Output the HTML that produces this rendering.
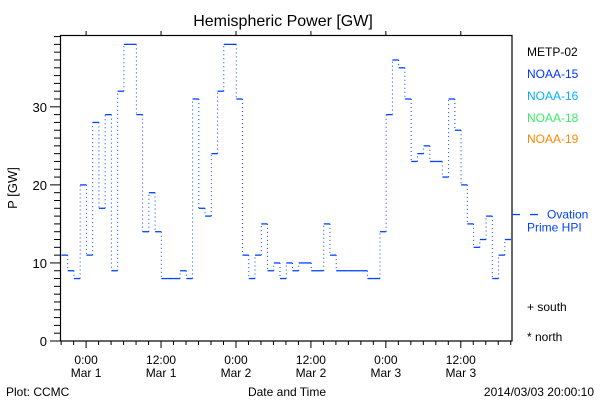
<!DOCTYPE html>
<html><head><meta charset="utf-8"><style>
body{margin:0;background:#fff;}
svg{display:block;font-family:"Liberation Sans",sans-serif;}
</style></head><body>
<svg id="chart" width="600" height="400" viewBox="0 0 600 400">
<text x="283" y="26" font-size="16" text-anchor="middle">Hemispheric Power [GW]</text>
<rect x="60.5" y="35.5" width="451.5" height="305.5" fill="none" stroke="#000" stroke-width="1.2"/>
<g id="yaxis"></g>
<g id="xaxis"></g>
<g id="series"></g>
<text transform="translate(17,188) rotate(-90)" font-size="13" text-anchor="middle">P [GW]</text>
<text x="287" y="396" font-size="12" text-anchor="middle">Date and Time</text>
<text x="6" y="396" font-size="12">Plot: CCMC</text>
<text x="594" y="396" font-size="12" text-anchor="end">2014/03/03 20:00:10</text>
<g font-size="12">
<text x="527" y="56" fill="#000">METP-02</text>
<text x="527" y="78" fill="#0033ff">NOAA-15</text>
<text x="527" y="100" fill="#00b0ff">NOAA-16</text>
<text x="527" y="122" fill="#33ee66">NOAA-18</text>
<text x="527" y="143" fill="#ff8800">NOAA-19</text>
<text x="527" y="311" fill="#000">+ south</text>
<text x="527" y="341" fill="#000">* north</text>
</g>
<g id="hpi"></g>
</svg>
<script>
const yTicks=[0,10,20,30];
const xTickHours=[0,12,24,36,48,60];
const xTickLabels1=["0:00","12:00","0:00","12:00","0:00","12:00"];
const xTickLabels2=["Mar 1","Mar 1","Mar 2","Mar 2","Mar 3","Mar 3"];
const startHour=-3.95;
const values=[11,9,8,20,11,28,17,29,9,32,38,38,29,14,19,14,8,8,8,9,8,31,17,16,24,32,38,38,31,11,8,11,15,9,10,8,10,9,10,10,9,9,15,11,9,9,9,9,9,8,8,14,29,36,35,31,23,24,25,23,23,21,31,27,20,15,12,13,16,8,11,13];
const hpiValue=16.2;
const NS="http://www.w3.org/2000/svg";
const X0=60.5,X1=512,Y0=341,Y1=35;
const tMin=-4.1,tMax=68.2,vMax=39.2;
function xs(t){return X0+(t-tMin)/(tMax-tMin)*(X1-X0);}
function ys(v){return Y0-v/vMax*(Y0-Y1);}
function mk(tag,attrs,parent){const e=document.createElementNS(NS,tag);for(const k in attrs)e.setAttribute(k,attrs[k]);parent.appendChild(e);return e;}
const ya=document.getElementById('yaxis');
for(let v=0;v<=39;v++){
  const major=v%10===0;
  const t=mk('line',{x1:major?50:54,x2:60.5,y1:ys(v),y2:ys(v),stroke:'#000','stroke-width':1},ya);
  
  
}
yTicks.forEach(v=>{
  const t=mk('text',{x:47,y:ys(v)+5,'font-size':13,'text-anchor':'end'},ya);
  t.textContent=v;
  
  
});
const xa=document.getElementById('xaxis');
for(let h=-4;h<=68;h+=2){
  const major=h%12===0;
  const t=mk('line',{x1:xs(h),x2:xs(h),y1:341,y2:major?348:345,stroke:'#000','stroke-width':1},xa);
  
  
  if(major){
    const u=mk('line',{x1:xs(h),x2:xs(h),y1:35,y2:31,stroke:'#000','stroke-width':1},xa);
    
    
  }
}
xTickHours.forEach((h,i)=>{
  const a=mk('text',{x:xs(h),y:364,'font-size':12,'text-anchor':'middle'},xa);
  a.textContent=xTickLabels1[i];
  
  
  const b=mk('text',{x:xs(h),y:377,'font-size':12,'text-anchor':'middle'},xa);
  b.textContent=xTickLabels2[i];
  
  
});
const sg=document.getElementById('series');
values.forEach((v,i)=>{
  const ta=startHour+i,tb=Math.min(startHour+i+1,tMax);
  const h=mk('line',{x1:xs(ta),x2:xs(tb),y1:ys(v),y2:ys(v),stroke:'#0044ff','stroke-width':1.3},sg);
  
  
  if(i<values.length-1){
    const d=mk('line',{x1:xs(tb),x2:xs(tb),y1:ys(v),y2:ys(values[i+1]),stroke:'#0044ff','stroke-width':1,'stroke-dasharray':'1 3'},sg);
    
    
  }
});
const hg=document.getElementById('hpi');
const hy=ys(hpiValue);
const l1=mk('line',{x1:512,x2:520,y1:hy,y2:hy,stroke:'#0044ff','stroke-width':1.3},hg);


const l2=mk('line',{x1:530,x2:538,y1:hy,y2:hy,stroke:'#0044ff','stroke-width':1.3},hg);


const t1=mk('text',{x:547,y:hy+4,'font-size':12,fill:'#0044ff'},hg);
t1.textContent='Ovation';


const t2=mk('text',{x:527,y:hy+17,'font-size':12,fill:'#0044ff'},hg);
t2.textContent='Prime HPI';


</script>
</body></html>
